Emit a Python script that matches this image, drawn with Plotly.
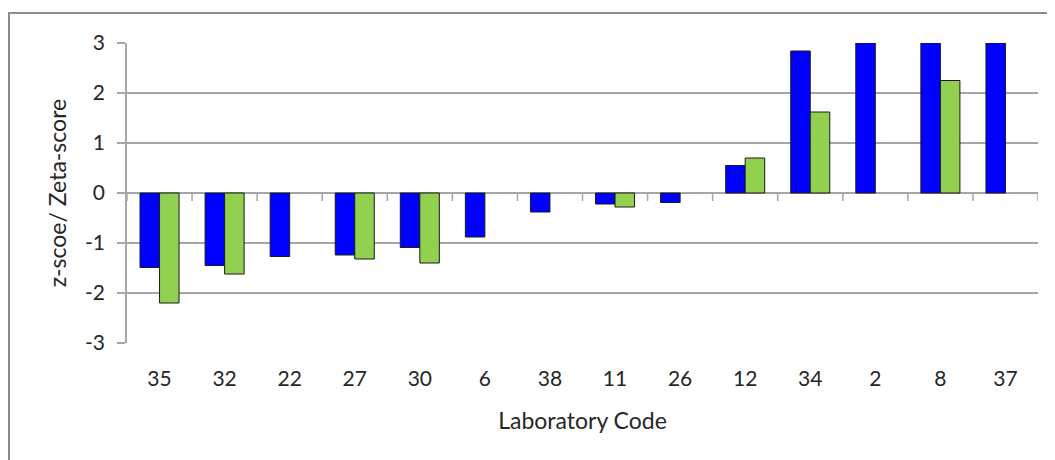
import plotly.graph_objects as go

lab_codes = ["35", "32", "22", "27", "30", "6", "38", "11", "26", "12", "34", "2", "8", "37"]
z_scores = [-1.49, -1.45, -1.27, -1.24, -1.09, -0.88, -0.38, -0.22, -0.19, 0.55, 2.84, 3.0, 3.0, 3.0]
zeta_scores = [-2.2, -1.62, None, -1.32, -1.40, None, None, -0.28, None, 0.70, 1.62, None, 2.25, None]
y_ticks = [-3, -2, -1, 0, 1, 2, 3]
y_tick_labels = ["-3", "-2", "-1", "0", "1", "2", "3"]

FONT = "Lato, Carlito, 'Open Sans', sans-serif"
GRID = "#A6A6A6"

# page body adds an 8px offset; figure is sized so the plot lands where the reference has it
W, H = 1047, 452
L, R, T, B = 119, 17, 35, 117
plot_w = W - L - R
plot_h = H - T - B

fig = go.Figure()
fig.add_trace(go.Bar(x=lab_codes, y=z_scores, name="z-score",
                     marker=dict(color="#0000FF", line=dict(color="#1a1a1a", width=1))))
fig.add_trace(go.Bar(x=lab_codes, y=zeta_scores, name="Zeta-score",
                     marker=dict(color="#92D050", line=dict(color="#1a1a1a", width=1))))

shapes = []
for i in range(len(lab_codes) + 1):
    shapes.append(dict(type="line", xref="x", yref="y", x0=i - 0.5, x1=i - 0.5,
                       y0=0, y1=-0.16, line=dict(color=GRID, width=1.5), layer="below"))
# outer chart frame
shapes.append(dict(type="rect", xref="paper", yref="paper",
                   x0=(1 - L) / plot_w, x1=1.05, y0=-0.6, y1=1 + (T - 5) / plot_h,
                   line=dict(color="#8C8C8C", width=2), fillcolor="rgba(0,0,0,0)"))

fig.update_layout(
    width=W, height=H,
    margin=dict(l=L, r=R, t=T, b=B),
    paper_bgcolor="white", plot_bgcolor="white",
    barmode="group", bargap=0.40, bargroupgap=0,
    showlegend=False,
    font=dict(family=FONT, size=21, color="#262626"),
    shapes=shapes,
    xaxis=dict(type="category", showgrid=False, showline=False, ticks="",
               tickfont=dict(size=21), ticklabelstandoff=21,
               title=dict(text="Laboratory Code", font=dict(size=23), standoff=23),
               range=[-0.5, len(lab_codes) - 0.5]),
    yaxis=dict(range=[-3, 3], tickvals=y_ticks, ticktext=y_tick_labels,
               showgrid=True, gridcolor=GRID, gridwidth=1.5,
               zeroline=True, zerolinecolor=GRID, zerolinewidth=1.5,
               showline=True, linecolor=GRID, linewidth=1.5,
               ticks="outside", ticklen=8, tickcolor=GRID, tickwidth=1.5,
               tickfont=dict(size=21), ticklabelstandoff=8,
               title=dict(text="z-scoe/ Zeta-score", font=dict(size=23), standoff=12)),
)

fig.write_html("out.html")
